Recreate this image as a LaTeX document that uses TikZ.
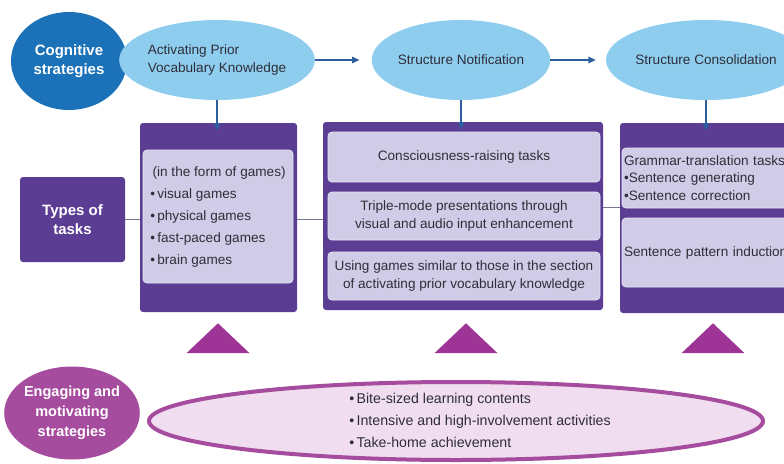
\documentclass[tikz,border=0pt]{standalone}
\usepackage{fontspec}
\setmainfont{Liberation Sans}
\usetikzlibrary{shapes.geometric,arrows.meta}
\definecolor{cogblue}{HTML}{1C72B8}
\definecolor{stageblue}{HTML}{8FCDEF}
\definecolor{arrowblue}{HTML}{2D5E9E}
\definecolor{taskpurple}{HTML}{5C3D94}
\definecolor{lavender}{HTML}{D0CCE7}
\definecolor{lavedge}{HTML}{E6E3F3}
\definecolor{engmagenta}{HTML}{A64C9E}
\definecolor{wedgemagenta}{HTML}{9E3596}
\definecolor{engpink}{HTML}{F0DDEF}
\definecolor{textgrey}{HTML}{2E2E38}
\definecolor{linkgrey}{HTML}{777790}
\tikzset{
  head/.style={ellipse, inner sep=0pt, text=white, align=center,
    font=\bfseries\fontsize{15}{19}\selectfont},
  stage/.style={ellipse, fill=stageblue, inner sep=0pt, text=textgrey,
    font=\fontsize{13.6}{18}\selectfont},
  arr/.style={draw=arrowblue, line width=1.4pt,
    -{Triangle[length=7.5pt,width=6.5pt]}},
  taskbox/.style={rectangle, rounded corners=3pt, fill=taskpurple, inner sep=0pt},
  inbox/.style={rectangle, rounded corners=4pt, fill=lavender, draw=lavedge,
    line width=0.8pt, inner sep=0pt, text=textgrey,
    font=\fontsize{13.6}{18}\selectfont},
  link/.style={draw=linkgrey, line width=1pt},
  wedge/.style={isosceles triangle, shape border rotate=90,
    isosceles triangle apex angle=93, fill=wedgemagenta, inner sep=0pt,
    minimum width=63pt, anchor=apex}
}
\begin{document}
\begin{tikzpicture}[x=1pt,y=-1pt]
\useasboundingbox (0,0) rectangle (784,463);
\clip (0,0) rectangle (784,463);

% cognitive strategies row
\node[head, fill=cogblue, minimum width=116pt, minimum height=98pt] (cog) at (69,61)
  {Cognitive\\strategies};
\node[stage, minimum width=160pt, minimum height=80pt, align=left] (act) at (217,60)
  {Activating Prior\\Vocabulary Knowledge};
\node[stage, minimum width=156pt, minimum height=80pt] (notif) at (461,60)
  {Structure Notification};
\node[stage, minimum width=160pt, minimum height=80pt] (cons) at (706,60)
  {Structure Consolidation};

% task boxes
\node[taskbox, minimum width=105pt, minimum height=85pt, text=white, align=center,
  font=\bfseries\fontsize{15}{19}\selectfont] (types) at (72.5,219.5) {Types of\\tasks};
\node[taskbox, minimum width=157pt, minimum height=189pt] (box1) at (218.5,217.5) {};
\node[taskbox, minimum width=280pt, minimum height=188pt] (box2) at (463,216) {};
\node[taskbox, minimum width=190pt, minimum height=190pt] (box3) at (715,218) {};

% inner task items
\node[inbox, minimum width=150pt, minimum height=133pt, align=left,
  font=\fontsize{13.6}{22}\selectfont] (games) at (218,216.5)
  {\,(in the form of games)\\•\,visual games\\•\,physical games\\•\,fast-paced games\\•\,brain games};
\node[inbox, minimum width=272pt, minimum height=50pt] (crt) at (464,157)
  {Consciousness-raising tasks};
\node[inbox, minimum width=272pt, minimum height=48pt, align=center] (tmp) at (464,216)
  {Triple-mode presentations through\\visual and audio input enhancement};
\node[inbox, minimum width=272pt, minimum height=48pt, align=center] (ugs) at (464,276)
  {Using games similar to those in the section\\of activating prior vocabulary knowledge};
\node[inbox, minimum width=180pt, minimum height=60pt, text width=176pt, align=left,
  inner xsep=2pt, font=\fontsize{13.6}{17.5}\selectfont] (gtt) at (712,178)
  {Grammar-translation tasks\\•Sentence generating\\•Sentence correction};
\node[inbox, minimum width=180pt, minimum height=69pt, text width=176pt, align=left,
  inner xsep=2pt] (spi) at (712,252.5)
  {Sentence pattern induction};

% links between the task boxes
\draw[link] (types.east) -- (box1.west |- types.east);
\draw[link] (box1.east |- types.east) -- (box2.west |- types.east);
\draw[link] (box2.east |- 0,207) -- (box3.west |- 0,207);

% stage arrows
\draw[arr, shorten >=12pt] (act.east) -- (notif.west);
\draw[arr, shorten >=10pt] (notif.east) -- (cons.west);
\draw[arr] (act.south) -- ([yshift=-8pt]act.south |- box1.north);
\draw[arr] (notif.south) -- ([yshift=-8pt]notif.south |- box2.north);
\draw[arr] (cons.south) -- ([yshift=-8pt]cons.south |- box3.north);

% engaging and motivating strategies
\node[head, fill=engmagenta, minimum width=115pt, minimum height=93pt,
  font=\bfseries\fontsize{14.5}{20}\selectfont] (eng) at (72,413)
  {Engaging and\\motivating\\strategies};
\node[ellipse, fill=engpink, draw=engmagenta, line width=4pt, inner sep=0pt,
  minimum width=614pt, minimum height=78pt] (ell) at (456,421) {};
\node[align=left, text=textgrey, inner sep=0pt,
  font=\fontsize{14.2}{22}\selectfont] (ellitems) at (480,420)
  {•\,Bite-sized learning contents\\•\,Intensive and high-involvement activities\\•\,Take-home achievement};

% supporting wedges under each task box
\node[wedge] (w1) at (218,323) {};
\node[wedge] (w2) at (466,323) {};
\node[wedge] (w3) at (713,323) {};
\end{tikzpicture}
\end{document}
